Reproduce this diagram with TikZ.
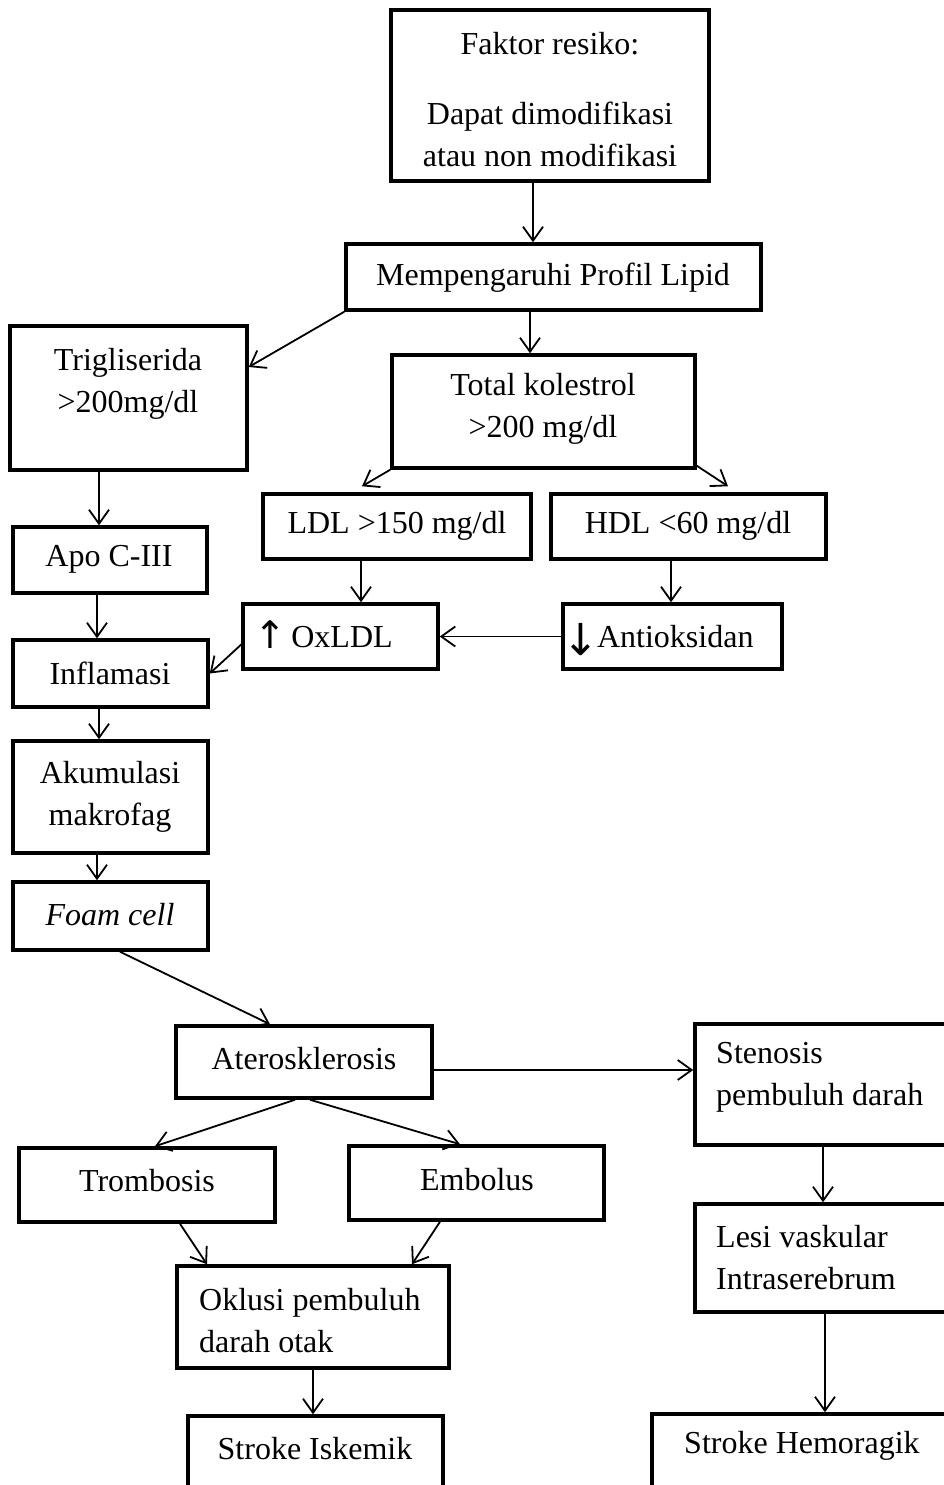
\documentclass[tikz,border=0pt]{standalone}
\usepackage{fontspec}
\setmainfont{Liberation Serif}
\newfontfamily\arrfont{DejaVu Sans}
\usetikzlibrary{arrows.meta,calc}
\tikzset{
  bx/.style={draw, line width=3.5pt, rectangle, inner sep=0pt, fill=white},
  txt/.style={font=\fontsize{32}{42}\selectfont, align=center, inner sep=0pt},
  txl/.style={txt, align=left, anchor=west},
  arr/.style={line width=1.8pt, -{Straight Barb[length=14pt,width=20pt,line width=1.8pt]}}
}
\newcommand\bx[5]{\node[bx, minimum width={#4-#2}, minimum height={#5-#3}] (#1) at ({(#2+#4)/2},{(#3+#5)/2}) {};}
\newcommand\uparr{\raisebox{-1pt}{\arrfont\fontsize{38}{38}\selectfont ↑}}
\newcommand\downarr{\raisebox{-8pt}{\arrfont\fontsize{44}{44}\selectfont ↓}}
\begin{document}
\begin{tikzpicture}[x=1pt,y=-1pt]
\useasboundingbox (0,0) rectangle (944,1485);
\clip (0,0) rectangle (944,1485);
% boxes
\bx{f}{391}{10}{709}{181}
\bx{m}{346}{244}{761}{310}
\bx{tg}{10}{326}{247}{470}
\bx{tk}{392}{355}{695}{468}
\bx{ldl}{263}{494}{531}{559}
\bx{hdl}{551}{494}{826}{559}
\bx{apo}{13}{527}{207}{593}
\bx{ox}{243}{604}{438}{669}
\bx{an}{563}{604}{782}{669}
\bx{inf}{13}{640}{208}{707}
\bx{ak}{13}{741}{208}{853}
\bx{fc}{13}{882}{208}{950}
\bx{at}{176}{1026}{432}{1098}
\bx{st}{695}{1024}{970}{1145}
\bx{tr}{19}{1148}{275}{1222}
\bx{em}{349}{1146}{604}{1220}
\bx{lv}{695}{1204}{970}{1312}
\bx{ok}{177}{1266}{449}{1368}
\bx{si}{188}{1416}{443}{1510}
\bx{sh}{652}{1414}{970}{1510}
% texts
\node[txt] (tf) at (550,100) {Faktor resiko:\\[28pt]Dapat dimodifikasi\\atau non modifikasi};
\node[txt] (tm) at (553,278) {Mempengaruhi Profil Lipid};
\node[txt] (ttg) at (128,384) {Trigliserida\\>200mg/dl};
\node[txt] (ttk) at (543,409) {Total kolestrol\\>200 mg/dl};
\node[txt] (tldl) at (397,526) {LDL >150 mg/dl};
\node[txt] (thdl) at (688,526) {HDL <60 mg/dl};
\node[txt] (tapo) at (109,559) {Apo C-III};
\node[txt, anchor=base west] (tox) at (254,647) {\uparr\,OxLDL};
\node[txt, anchor=base west] (tan) at (562,647) {\downarr\kern-2pt Antioksidan};
\node[txt] (tinf) at (110,673) {Inflamasi};
\node[txt] (tak) at (110,797) {Akumulasi\\makrofag};
\node[txt] (tfc) at (110,915) {\itshape Foam cell};
\node[txt] (tat) at (304,1059) {Aterosklerosis};
\node[txl] (tst) at (716,1077) {Stenosis\\pembuluh darah};
\node[txt] (ttr) at (147,1181) {Trombosis};
\node[txt] (tem) at (477,1180) {Embolus};
\node[txl] (tlv) at (716,1258) {Lesi vaskular\\Intraserebrum};
\node[txl] (tok) at (199,1321) {Oklusi pembuluh\\darah otak};
\node[txt] (tsi) at (315,1449) {Stroke Iskemik};
\node[txl] (tsh) at (684,1446) {Stroke Hemoragik};
% connectors
\draw[arr] ([xshift=-17pt]f.south) -- ([xshift=-20.5pt]m.north);
\draw[arr] (m.south west) -- ([yshift=31pt]tg.east);
\draw[arr] ([xshift=-23.5pt]m.south) -- ([xshift=-13.5pt]tk.north);
\draw[arr] (tk.south west) -- ([xshift=-35pt,yshift=6pt]ldl.north);
\draw[arr] ([yshift=4pt]tk.south east) -- ([xshift=39.5pt,yshift=6pt]hdl.north);
\draw[arr] ([xshift=-29.5pt]tg.south) -- ([xshift=-11pt]apo.north);
\draw[arr] ([xshift=-36pt]ldl.south) -- ([xshift=20.5pt]ox.north);
\draw[arr] ([xshift=-17.5pt]hdl.south) -- ([xshift=-1.5pt]an.north);
\draw[arr] (an.west) -- (ox.east);
\draw[arr] ([yshift=-8pt]ox.west) -- (inf.east);
\draw[arr] ([xshift=-13pt]apo.south) -- ([xshift=-13.5pt]inf.north);
\draw[arr] ([xshift=-11.5pt]inf.south) -- ([xshift=-11.5pt]ak.north);
\draw[arr] ([xshift=-13.5pt]ak.south) -- ([xshift=-13.5pt]fc.north);
\draw[arr] ([xshift=9.5pt]fc.south) -- ([xshift=-34pt]at.north);
\draw[arr] ([yshift=-8pt]at.east) -- ([yshift=14.5pt]st.west);
\draw[arr] ([xshift=-9pt]at.south) -- ([xshift=8pt]tr.north);
\draw[arr] ([xshift=6pt]at.south) -- ([xshift=-16.5pt]em.north);
\draw[arr] ([xshift=33pt]tr.south) -- ([xshift=-106pt]ok.north);
\draw[arr] ([xshift=-36.5pt]em.south) -- ([xshift=99pt]ok.north);
\draw[arr] ([xshift=0pt]ok.south) -- ([xshift=-2.5pt]si.north);
\draw[arr] ([xshift=-9.5pt]st.south) -- ([xshift=-9.5pt]lv.north);
\draw[arr] ([xshift=-7.5pt]lv.south) -- ([xshift=14pt]sh.north);
\end{tikzpicture}
\end{document}
